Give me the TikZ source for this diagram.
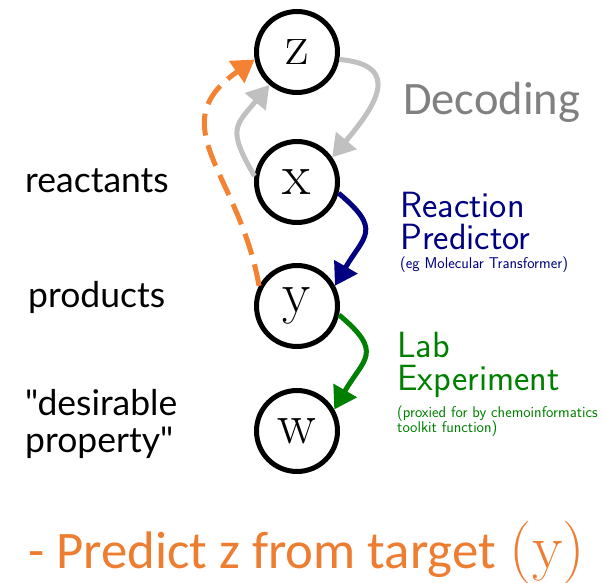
\documentclass[tikz,border=0pt]{standalone}
\usepackage{fontspec}
\usetikzlibrary{arrows.meta}
\newfontfamily\calfont{Carlito}
\newfontfamily\labfont{Lato}
\definecolor{decgray}{RGB}{192,192,192}
\definecolor{dectext}{RGB}{128,128,128}
\definecolor{navyc}{RGB}{0,0,128}
\definecolor{greenc}{RGB}{0,128,0}
\definecolor{orangec}{RGB}{245,130,50}
\definecolor{bottomc}{RGB}{237,125,49}
\begin{document}
\begin{tikzpicture}[x=1pt,y=-1pt,
  var/.style={circle,draw=black,line width=5pt,minimum size=81pt,inner sep=0pt,
    font=\fontsize{58}{60}\selectfont},
  conn/.style={line width=5pt,-{Triangle[length=22pt,width=26pt]}},
  leftlab/.style={anchor=base west,inner sep=0pt,font=\labfont\fontsize{35.5}{44}\selectfont},
  biglab/.style={anchor=base west,inner sep=0pt,font=\sffamily\fontsize{36.5}{31}\selectfont,align=left},
  smalllab/.style={anchor=base west,inner sep=0pt,font=\sffamily\fontsize{15.6}{15}\selectfont,align=left}]
\useasboundingbox (0,0) rectangle (605,583);
\node[var] (z) at (297,52) {z};
\node[var] (x) at (297,182) {x};
\node[var] (y) at (297,306) {y};
\node[var] (w) at (297,431) {w};
% left labels
\node[leftlab] (lr) at (25,192) {reactants};
\node[leftlab] (lp) at (28,307) {products};
\node[leftlab] (ld1) at (25,415) {"desirable};
\node[leftlab] (ld2) at (25,452) {property"};
% right labels
\node[anchor=base west,inner sep=0pt,text=dectext,font=\calfont\fontsize{46.5}{50}\selectfont] (dec) at (403,115) {Decoding};
\node[biglab,text=navyc] (rp1) at (400,217) {Reaction};
\node[biglab,text=navyc] (rp2) at (400,249) {Predictor};
\node[smalllab,text=navyc] (rp3) at (400,268) {(eg Molecular Transformer)};
\node[biglab,text=greenc] (le1) at (397,357) {Lab};
\node[biglab,text=greenc] (le2) at (397,390) {Experiment};
\node[smalllab,text=greenc] (le3) at (397,417) {(proxied for by chemoinformatics};
\node[smalllab,text=greenc] (le4) at (397,432) {toolkit function)};
% bottom
\node[anchor=base west,inner sep=0pt,text=bottomc,font=\calfont\fontsize{52.8}{55}\selectfont] (bt) at (28,568) {- Predict z from target\hspace{14pt}{\rmfamily\fontsize{63}{63}\selectfont(y)}};
% connectors
\draw[conn,decgray] (z.-10) to[out=-5,in=50,looseness=1.7] (x.35);
\draw[conn,decgray] (x.172) to[out=120,in=-130,looseness=1.5] (z.-130);
\draw[conn,navyc] (x.-15) to[out=-40,in=60,looseness=1.6] (y.28);
\draw[conn,greenc] (y.-12) to[out=-40,in=60,looseness=1.6] (w.30);
\draw[conn,orangec,dash pattern=on 22pt off 10pt] (y.152) to[out=100,in=-145,looseness=1.3] (z.190);
\end{tikzpicture}
\end{document}
